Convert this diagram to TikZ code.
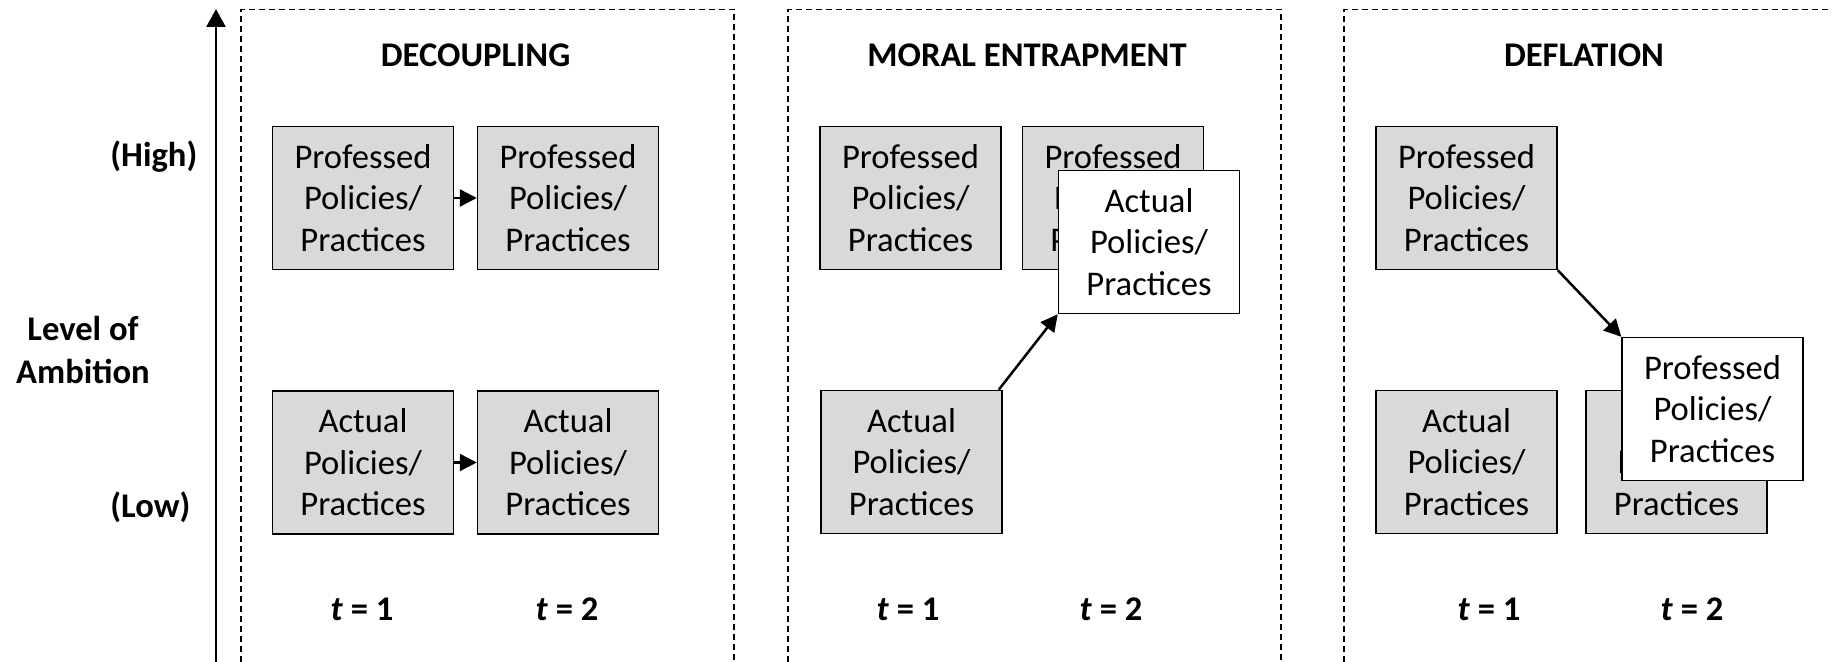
\documentclass[tikz,border=0pt]{standalone}
\usepackage{fontspec}
\setmainfont{Carlito}
\usetikzlibrary{arrows.meta}
\definecolor{boxgray}{HTML}{D9D9D9}
\begin{document}
\begin{tikzpicture}[x=0.5pt,y=-0.5pt,
  every node/.style={font=\fontsize{17.3}{20.8}\selectfont, inner sep=0pt},
  pbox/.style={draw=black, line width=0.75pt, fill=boxgray, minimum width=90.5pt, minimum height=71.5pt, align=center},
  wbox/.style={pbox, fill=white},
  panel/.style={draw=black, dash pattern=on 3pt off 2pt, line width=0.6pt},
  lbl/.style={font=\fontsize{17.3}{20.8}\selectfont\bfseries},
  flow/.style={-{Triangle[length=8.5pt,width=8.5pt]}, line width=1.25pt},
  axisline/.style={-{Triangle[length=9pt,width=9.5pt]}, line width=1.35pt},
]
\useasboundingbox (0,0) rectangle (1832,662);

% axis
\coordinate (axb) at (216,662);
\coordinate (axt) at (216,9);
\draw[axisline] (axb) -- (axt);
\node[lbl, anchor=west] (hi) at (110,157) {(High)};
\node[lbl, anchor=west] (lo) at (110,507) {(Low)};
\node[lbl, align=center] (lev) at (83,350) {Level of\\[1pt]Ambition};

% panels
\draw[panel] (241,662) -- (241,9.5) -- (734,9.5) -- (734,662);
\draw[panel] (788,662) -- (788,9.5) -- (1281,9.5) -- (1281,662);
\draw[panel] (1344,662) -- (1344,9.5) -- (1832,9.5);

% panel 1: decoupling
\node[lbl] (h1) at (475.6,55) {DECOUPLING};
\node[pbox] (dp1) at (363,198) {Professed\\Policies/\\Practices};
\node[pbox] (dp2) at (568,198) {Professed\\Policies/\\Practices};
\node[pbox] (da1) at (363,462.5) {Actual\\Policies/\\Practices};
\node[pbox] (da2) at (568,462.5) {Actual\\Policies/\\Practices};
\draw[flow] (dp1) -- (dp2);
\draw[flow] (da1) -- (da2);
\node[lbl] (dt1) at (362,609) {\textit{t} = 1};
\node[lbl] (dt2) at (567,609) {\textit{t} = 2};

% panel 2: moral entrapment
\node[lbl] (h2) at (1027,55) {MORAL ENTRAPMENT};
\node[pbox] (mp1) at (910.5,198) {Professed\\Policies/\\Practices};
\node[pbox] (ma1) at (911.5,462) {Actual\\Policies/\\Practices};
\node[pbox] (mp2) at (1113,198) {Professed\\Policies/\\Practices};
\node[wbox] (ma2) at (1149,242) {Actual\\Policies/\\Practices};
\draw[flow] ([xshift=-2pt]ma1.north east) -- (ma2.south west);
\node[lbl] (mt1) at (908,609) {\textit{t} = 1};
\node[lbl] (mt2) at (1111,609) {\textit{t} = 2};

% panel 3: deflation
\node[lbl] (h3) at (1584,55) {DEFLATION};
\node[pbox] (fp1) at (1466.5,198) {Professed\\Policies/\\Practices};
\node[pbox] (fa1) at (1466.5,462) {Actual\\Policies/\\Practices};
\node[pbox] (fa2) at (1676.5,462) {Actual\\Policies/\\Practices};
\node[wbox] (fp2) at (1712.5,409) {Professed\\Policies/\\Practices};
\draw[flow] (fp1.south east) -- (fp2.north west);
\node[lbl] (ft1) at (1489,609) {\textit{t} = 1};
\node[lbl] (ft2) at (1692,609) {\textit{t} = 2};
\end{tikzpicture}
\end{document}
